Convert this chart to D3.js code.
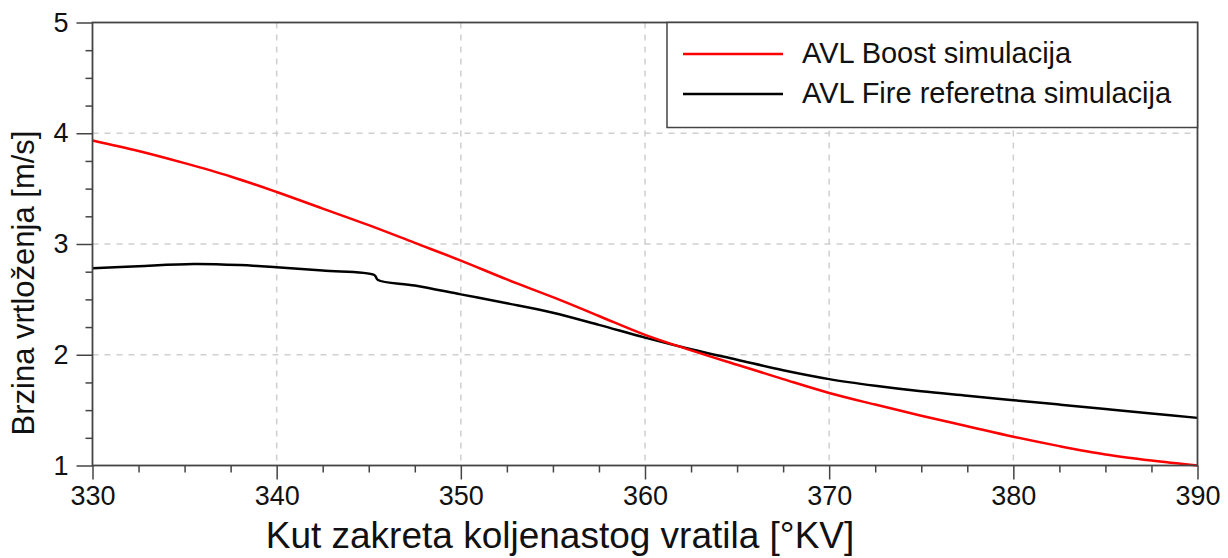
<!DOCTYPE html>
<html><head><meta charset="utf-8">
<script src="https://cdn.jsdelivr.net/npm/d3@7"></script>
<style>body{margin:0;background:#fff;}svg{display:block;font-family:"Liberation Sans",Arial,sans-serif;}</style>
</head><body><svg id="c" width="1228" height="558"></svg>
<script>
const angles = [330,332.5,335,337.5,340,342.5,345,347.5,350,352.5,355,357.5,360,362.5,365,367.5,370,372.5,375,377.5,380,382.5,385,387.5,390];
const boostVals = [3.935,3.84,3.73,3.61,3.47,3.32,3.17,3.01,2.85,2.68,2.52,2.35,2.18,2.04,1.91,1.78,1.655,1.55,1.45,1.355,1.26,1.175,1.10,1.045,1.0];
const fireAngles = [330,332.5,335.5,338,340,342.5,345.3,345.5,347.5,350,352.5,355,357.5,360,362.5,365,367.5,370,372.5,375,377.5,380,382.5,385,387.5,390];
const fireVals = [2.78,2.80,2.82,2.81,2.79,2.76,2.72,2.675,2.625,2.545,2.465,2.38,2.27,2.155,2.05,1.955,1.86,1.78,1.72,1.67,1.63,1.59,1.55,1.51,1.47,1.43];
const xTicks = [330,340,350,360,370,380,390];
const yTicks = [1,2,3,4,5];
const seriesNames = ["AVL Boost simulacija","AVL Fire referetna simulacija"];
const seriesColors = ["#ff0000","#000000"];
const xTitle = "Kut zakreta koljenastog vratila [°KV]";
const yTitle = "Brzina vrtloženja [m/s]";

const svg = d3.select("#c");
const L=92.5, R=1197.5, T=22.5, B=465.5;
const x = d3.scaleLinear().domain([330,390]).range([L,R]);
const y = d3.scaleLinear().domain([1,5]).range([B,T]);
const axisCol = "#444";
const fontFam = "Liberation Sans, Arial, sans-serif";

// grid
const g = svg.append("g");
g.selectAll(".gx").data(xTicks.slice(1,-1)).join("line")
  .attr("x1",d=>x(d)).attr("x2",d=>x(d)).attr("y1",T).attr("y2",B)
  .attr("stroke","#cfcfcf").attr("stroke-width",1.5).attr("stroke-dasharray","6,6");
g.selectAll(".gy").data(yTicks.slice(1,-1)).join("line")
  .attr("y1",d=>y(d)).attr("y2",d=>y(d)).attr("x1",L).attr("x2",R)
  .attr("stroke","#cfcfcf").attr("stroke-width",1.5).attr("stroke-dasharray","6,6");

// axes
const xAxis = d3.axisBottom(x).tickValues(d3.range(330,390.1,2.5)).tickSize(7).tickFormat("");
const xa = svg.append("g").attr("transform",`translate(0,${B})`).call(xAxis);
xa.selectAll(".tick line").attr("stroke",axisCol).attr("stroke-width",1.5)
  .attr("y2",d=>(d%10===0)?14:7);
xa.select(".domain").remove();
const xl = d3.axisBottom(x).tickValues(xTicks).tickSize(0).tickPadding(20).tickFormat(d3.format("d"));
const xlg = svg.append("g").attr("transform",`translate(0,${B})`).call(xl)
  .attr("font-size",27).attr("font-family",fontFam);
xlg.select(".domain").remove();
xlg.selectAll("text").attr("fill","#111");

const yAxis = d3.axisLeft(y).tickValues(d3.range(1,5.01,0.25)).tickSize(7).tickFormat("");
const ya = svg.append("g").attr("transform",`translate(${L},0)`).call(yAxis);
ya.selectAll(".tick line").attr("stroke",axisCol).attr("stroke-width",1.5)
  .attr("x2",d=>(Math.abs(d-Math.round(d))<1e-6)?-16:-7);
ya.select(".domain").remove();
const yl = d3.axisLeft(y).tickValues(yTicks).tickSize(0).tickPadding(24).tickFormat(d3.format("d"));
const ylg = svg.append("g").attr("transform",`translate(${L},0)`).call(yl)
  .attr("font-size",27).attr("font-family",fontFam);
ylg.select(".domain").remove();
ylg.selectAll("text").attr("fill","#111");

// lines
const line = d3.line().x(d=>x(d[0])).y(d=>y(d[1])).curve(d3.curveCatmullRom.alpha(0.5));
const boost = angles.map((a,i)=>[a,boostVals[i]]);
const fire = fireAngles.map((a,i)=>[a,fireVals[i]]);
svg.append("path").datum(fire).attr("d",line).attr("fill","none").attr("stroke",seriesColors[1]).attr("stroke-width",2.5);
svg.append("path").datum(boost).attr("d",line).attr("fill","none").attr("stroke",seriesColors[0]).attr("stroke-width",2.5);

// frame
svg.append("rect").attr("x",L).attr("y",T).attr("width",R-L).attr("height",B-T)
  .attr("fill","none").attr("stroke",axisCol).attr("stroke-width",1.8);

// legend
const lg = svg.append("g");
lg.append("rect").attr("x",667).attr("y",T).attr("width",R-667).attr("height",127.5-T)
  .attr("fill","#fff").attr("stroke",axisCol).attr("stroke-width",1.5);
seriesNames.forEach((n,i)=>{
  const yy = 54 + i*40;
  lg.append("line").attr("x1",683).attr("x2",783).attr("y1",yy).attr("y2",yy)
    .attr("stroke",seriesColors[i]).attr("stroke-width",2.5);
  lg.append("text").attr("x",802).attr("y",yy+9).attr("font-size",29).attr("fill","#111").text(n);
});

// titles
svg.append("text").attr("x",560).attr("y",548).attr("text-anchor","middle")
  .attr("font-size",37).attr("fill","#111").text(xTitle);
svg.append("text").attr("transform","translate(34,283) rotate(-90)").attr("text-anchor","middle")
  .attr("font-size",31).attr("fill","#111").text(yTitle);
</script></body></html>
